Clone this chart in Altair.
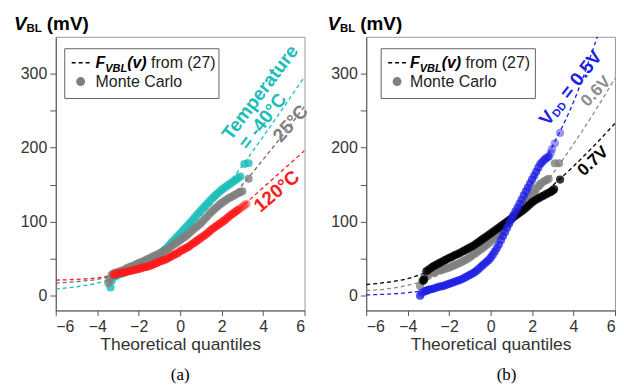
import altair as alt
import pandas as pd

FONT = "Liberation Sans"
SERIF = "Liberation Serif"

# ---------------- data ----------------
# fitted curves F_VBL(v) at integer theoretical quantiles
fit_x = [-6, -5, -4, -3, -2, -1, 0, 1, 2, 3, 4, 5, 6]
fit_a_cyan = [9, 12, 17, 25, 38, 56, 80, 108, 140, 176, 215, 255, 296]
fit_a_grey = [17, 19, 22, 28, 40, 55, 74, 96, 122, 150, 184, 219, 256]
fit_a_red = [21, 22, 24, 29, 37, 47, 60, 78, 98, 121, 146, 171, 196]
fit_b_blue = [1, 2, 4, 8, 16, 32, 57, 100, 153, 203, 262, 338, 425]
fit_b_grey = [7, 9, 14, 22, 35, 52, 74, 100, 130, 165, 205, 248, 294]
fit_b_black = [15, 18, 23, 33, 47, 64, 82, 103, 125, 149, 175, 203, 233]

# Monte Carlo sample quantiles
q = [-3.0, -2.9, -2.8, -2.7, -2.6, -2.5, -2.4, -2.3, -2.2, -2.1, -2.0,
     -1.9, -1.8, -1.7, -1.6, -1.5, -1.4, -1.3, -1.2, -1.1, -1.0,
     -0.9, -0.8, -0.7, -0.6, -0.5, -0.4, -0.3, -0.2, -0.1, 0.0,
     0.1, 0.2, 0.3, 0.4, 0.5, 0.6, 0.7, 0.8, 0.9, 1.0,
     1.1, 1.2, 1.3, 1.4, 1.5, 1.6, 1.7, 1.8, 1.9, 2.0,
     2.1, 2.2, 2.3, 2.4, 2.5, 2.6, 2.7, 2.8]

mc_a_cyan = [28, 29, 30, 31, 32.5, 34, 35, 36, 37, 38, 39,
             40.5, 42, 43, 44.5, 46, 48, 50, 52, 54, 56,
             58, 60.5, 63, 66, 69, 72, 75, 78, 81, 84,
             87, 90, 93, 96, 99, 102, 105.5, 109, 112, 115,
             118, 121, 124, 127, 130, 133, 135.5, 138, 140.5, 143,
             145, 147, 149, 151, 153, 155, 157, 159]
mc_a_grey = [32, 33, 34, 35, 36.5, 38, 39, 40, 41, 42.5, 44,
             45, 46, 47.5, 49, 50, 51.5, 53, 54, 55.5, 57,
             58.5, 60, 61.5, 63, 65, 67, 69, 71, 73, 75,
             77, 79, 81, 83.5, 86, 88.5, 91, 93, 95.5, 98,
             101, 104, 107, 110, 113, 115.5, 118, 120.5, 123, 125,
             127, 129, 131, 132.5, 134, 135.5, 137, 138.5]
mc_a_red = [30, 30.5, 31, 31.5, 32, 33, 33.5, 34, 35, 35.5, 36,
            37, 38, 38.5, 39, 40, 41, 42, 43.5, 44.5, 46,
            47, 48, 49, 50.5, 52, 53.5, 55, 56.5, 58, 60,
            61.5, 63, 64.5, 66, 68, 70, 72, 74, 76, 78,
            80, 82, 84, 86.5, 89, 91, 93, 95, 97, 99,
            101, 103, 105.5, 108, 110, 112, 114, 116]
mc_b_blue = [8, 8.5, 9, 10, 11, 12, 12.5, 13, 14, 15, 16,
             17, 18, 19, 20, 21, 22, 23.5, 25, 26.5, 28,
             29.5, 31, 33, 35.5, 38, 40.5, 43, 45.5, 48, 51,
             55, 59.5, 64, 69, 75, 80.5, 86, 92, 97.5, 103,
             108.5, 114, 119, 124.5, 130, 135.5, 141, 146, 151.5, 157,
             162, 167.5, 173, 178, 181, 184, 186, 188]
mc_b_grey = [29, 30, 31, 32, 33, 34, 35, 35.5, 36.5, 37, 38,
             39, 40.5, 41.5, 43, 44, 45.5, 47, 48.5, 50, 52,
             54, 56, 58, 60, 62, 64, 66, 68.5, 70.5, 73,
             75.5, 78.5, 81, 84, 87, 90.5, 94, 97, 100.5, 104,
             107.5, 111, 114, 117.5, 121, 124.5, 128, 131, 134.5, 138,
             141, 144.5, 148, 151, 153, 155, 156.5, 158]
mc_b_black = [35, 37, 39, 40.5, 42, 43.5, 45, 46.5, 48, 49.5, 51,
              52, 53.5, 55, 56, 57.5, 59, 60.5, 62, 63.5, 65,
              66.5, 68, 70, 72, 74, 76, 78, 80, 82, 84,
              86, 88, 90, 92, 94, 96, 98, 100, 102, 104,
              106, 108, 110, 112, 114, 116, 118.5, 121, 123.5, 126,
              128, 130, 131.5, 133, 134.5, 136, 137.5, 139]

# sparse tail samples (x, y)
tail_a_cyan_x = [-3.36, -3.3, -3.15, -3.08, 2.9, 3.1, 3.3]
tail_a_cyan_y = [11, 20, 26, 27, 161, 178, 179]
tail_a_grey_x = [-3.46, -3.4, -3.3, -3.2, -3.1, 2.9, 3.0, 3.3]
tail_a_grey_y = [17, 22, 28, 30, 31, 140, 141, 158]
tail_a_red_x = [-3.2, -3.1, 2.9, 3.0, 3.1, 3.2]
tail_a_red_y = [28, 29, 118, 120, 122, 124]
tail_b_blue_x = [-3.4, -3.3, -3.15, -3.06, 2.9, 2.96, 3.1, 3.35]
tail_b_blue_y = [0, 4, 6, 7, 193, 198, 206, 220]
tail_b_grey_x = [-3.4, -3.3, -3.2, -3.1, 3.1, 3.3]
tail_b_grey_y = [13, 20, 25, 28, 179, 179]
tail_b_black_x = [-3.25, -3.2, -3.1, 2.9, 3.0, 3.06, 3.35]
tail_b_black_y = [20, 22, 33, 140, 142, 144, 157]

x_ticks = [-6, -4, -2, 0, 2, 4, 6]
y_ticks = [0, 50, 100, 150, 200, 250, 300]

CYAN = "#1CBDBA"
GREY = "#7F7F7F"
RED = "#FF1A1A"
BLUE = "#2020E6"
BLACK = "#000000"

W, H = 250, 275

xs = alt.Scale(domain=[-6, 6], nice=False, zero=False)
ys = alt.Scale(domain=[-20, 350], nice=False, zero=False)
xax = alt.Axis(values=x_ticks, title="Theoretical quantiles", grid=False,
               tickSize=5, labelPadding=3, titlePadding=1)
yax = alt.Axis(values=y_ticks, title=None, grid=False, tickSize=6, labelPadding=3,
               labelExpr="datum.value % 100 == 0 ? datum.label : ''")

ONE = pd.DataFrame({"d": [0]})


def X():
    return alt.X("x:Q", scale=xs, axis=xax)


def Y():
    return alt.Y("y:Q", scale=ys, axis=yax)


def ptext(text, px, py, size, color="#000", weight="bold", style="normal",
          font=FONT, align="left", baseline="alphabetic"):
    return alt.Chart(ONE).mark_text(
        text=text, fontSize=size, fontWeight=weight, fontStyle=style, font=font,
        color=color, align=align, baseline=baseline
    ).encode(x=alt.value(px), y=alt.value(py))


def dtext(text, x, y, size, color, angle, dx=0, dy=0, align="center"):
    df = pd.DataFrame({"x": [x], "y": [y]})
    return alt.Chart(df).mark_text(
        text=text, fontSize=size, fontWeight="bold", font=FONT, color=color,
        align=align, baseline="middle", angle=angle, dx=dx, dy=dy
    ).encode(x=X(), y=Y())


def panel(fits, mcs, tails, annos, ylab_x, leg_x0, leg_txt_x, letter, letter_x):
    fit_rows = []
    for name, color, vals in fits:
        for xv, yv in zip(fit_x, vals):
            fit_rows.append({"x": xv, "y": yv, "s": name, "c": color})
    lines = alt.Chart(pd.DataFrame(fit_rows)).mark_line(
        strokeDash=[4, 3], strokeWidth=1.3, clip=True, interpolate="monotone"
    ).encode(x=X(), y=Y(), color=alt.Color("c:N", scale=None), detail="s:N")

    pt_rows = []
    k = 0
    for (color, vals), (tx, ty, top) in zip(mcs, tails):
        for xv, yv in zip(q, vals):
            pt_rows.append({"x": xv, "y": yv, "c": color, "o": 0.75, "k": k})
            k += 1
        for xv, yv in zip(tx, ty):
            o = 0.45 if (xv > 0 and top) else 0.8
            pt_rows.append({"x": xv, "y": yv, "c": color, "o": o, "k": k})
            k += 1
    points = alt.Chart(pd.DataFrame(pt_rows)).mark_circle(size=68, stroke=None).encode(
        x=X(), y=Y(), color=alt.Color("c:N", scale=None),
        opacity=alt.Opacity("o:Q", scale=None), order="k:Q")

    # legend
    box = alt.Chart(ONE).mark_rect(fill="white", stroke="#666", strokeWidth=1).encode(
        x=alt.value(leg_x0), x2=alt.value(leg_x0 + 155), y=alt.value(12), y2=alt.value(62))
    dash = alt.Chart(ONE).mark_rule(strokeDash=[4, 3], strokeWidth=1.5, color="#000").encode(
        x=alt.value(leg_x0 + 7), x2=alt.value(leg_x0 + 26), y=alt.value(26))
    dot = alt.Chart(ONE).mark_circle(size=80, color=GREY, opacity=1).encode(
        x=alt.value(leg_x0 + 16), y=alt.value(45))
    t0 = leg_txt_x
    leg = [
        ptext("F", t0, 31, 16, style="italic"),
        ptext("VBL", t0 + 9.8, 35, 11, style="italic"),
        ptext("(v)", t0 + 31.8, 31, 16, style="italic"),
        ptext("from (27)", t0 + 55.8, 31, 16, weight="normal", color="#222"),
        ptext("Monte Carlo", t0, 50, 16, weight="normal", color="#222"),
    ]
    # y label
    ylab = [
        ptext("V", ylab_x, -7, 19, style="italic"),
        ptext("BL", ylab_x + 12.7, -5, 11.5),
        ptext("(mV)", ylab_x + 33, -7, 19),
    ]
    lab = ptext(letter, letter_x, 345, 17, weight="normal", font=SERIF, align="center")

    return alt.layer(lines, points, box, dash, dot, *leg, *ylab, lab, *annos).properties(
        width=W, height=H)


pa = panel(
    fits=[("c", CYAN, fit_a_cyan), ("g", "#6E6E6E", fit_a_grey), ("r", RED, fit_a_red)],
    mcs=[(CYAN, mc_a_cyan), (GREY, mc_a_grey), (RED, mc_a_red)],
    tails=[(tail_a_cyan_x, tail_a_cyan_y, False), (tail_a_grey_x, tail_a_grey_y, False),
           (tail_a_red_x, tail_a_red_y, True)],
    annos=[
        dtext("Temperature", 3.86, 274.6, 19, CYAN, 307),
        dtext("= -40°C", 3.98, 235.5, 19, CYAN, 308),
        dtext("25°C", 5.33, 232.8, 19, GREY, 312),
        dtext("120°C", 4.66, 141, 19, RED, 320),
    ],
    ylab_x=-42, leg_x0=9, leg_txt_x=40, letter="(a)", letter_x=125,
)

pb = panel(
    fits=[("b", BLUE, fit_b_blue), ("g", "#8C8C8C", fit_b_grey), ("k", BLACK, fit_b_black)],
    mcs=[(GREY, mc_b_grey), (BLACK, mc_b_black), (BLUE, mc_b_blue)],
    tails=[(tail_b_grey_x, tail_b_grey_y, False), (tail_b_black_x, tail_b_black_y, False),
           (tail_b_blue_x, tail_b_blue_y, True)],
    annos=[
        dtext("V", 3.855, 280.6, 19, BLUE, 308, dx=-44.6, align="left"),
        dtext("DD", 3.855, 280.6, 11, BLUE, 308, dx=-31.9, dy=5, align="left"),
        dtext("= 0.5V", 3.855, 280.6, 19, BLUE, 308, dx=-10.7, align="left"),
        dtext("0.6V", 5.08, 276, 17, "#8C8C8C", 314),
        dtext("0.7V", 4.94, 181.7, 17, BLACK, 317),
    ],
    ylab_x=-39, leg_x0=15, leg_txt_x=44, letter="(b)", letter_x=141,
)

chart = alt.hconcat(pa, pb, spacing=13).properties(
    padding={"left": 5, "top": 5, "right": 0, "bottom": 0}
).configure_view(stroke="#999", strokeWidth=1).configure_axis(
    labelFont=FONT, titleFont=FONT, labelFontSize=16, titleFontSize=17.5,
    titleFontWeight="normal", labelColor="#333", titleColor="#333",
    domainColor="#555", tickColor="#555"
)

chart.save("out.html", embed_options={"renderer": "svg", "actions": False})
